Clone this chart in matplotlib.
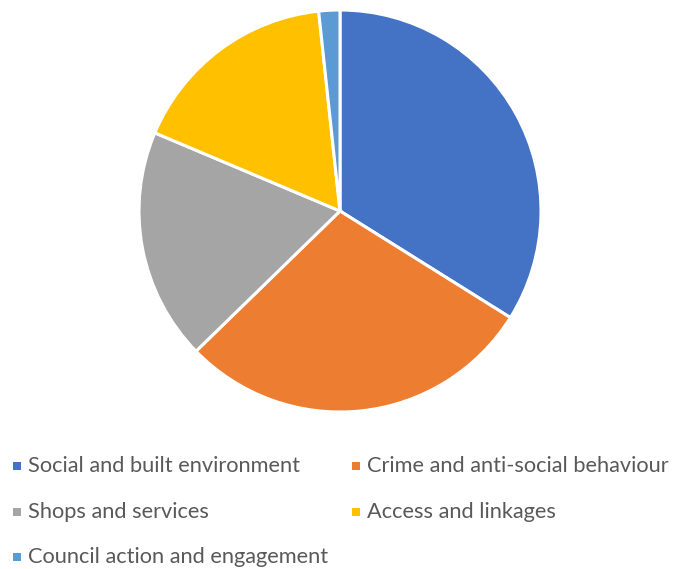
import matplotlib
matplotlib.use("Agg")
import matplotlib.pyplot as plt
from matplotlib.patches import Rectangle

categories = [
    "Social and built environment",
    "Crime and anti-social behaviour",
    "Shops and services",
    "Access and linkages",
    "Council action and engagement",
]
values = [20, 17, 11, 10, 1]
colors = ["#4472C4", "#ED7D31", "#A5A5A5", "#FFC000", "#5B9BD5"]

W, H = 677, 569
fig = plt.figure(figsize=(W / 100, H / 100), dpi=100)
fig.patch.set_facecolor("white")

cx, cy, r = 340, 211, 201
ax = fig.add_axes([(cx - r) / W, (H - cy - r) / H, 2 * r / W, 2 * r / H])
ax.pie(values, colors=colors, startangle=90, counterclock=False, radius=1,
       wedgeprops=dict(edgecolor="white", linewidth=2.2))
ax.set_xlim(-1, 1)
ax.set_ylim(-1, 1)
ax.set_aspect("equal")
ax.axis("off")

# legend laid out in two columns
col_x = [13, 352]
row_y = [466, 512, 557]
sq = 8
for i, (name, c) in enumerate(zip(categories, colors)):
    x = col_x[i % 2]
    y = row_y[i // 2]
    fig.patches.append(Rectangle((x / W, (H - y - sq / 2) / H), sq / W, sq / H,
                                 transform=fig.transFigure, facecolor=c,
                                 edgecolor="none"))
    fig.text((x + 15) / W, (H - y) / H, name, fontsize=15.7, family="Lato",
             color="#595959", va="center", ha="left")

fig.savefig("out.png", dpi=100)
